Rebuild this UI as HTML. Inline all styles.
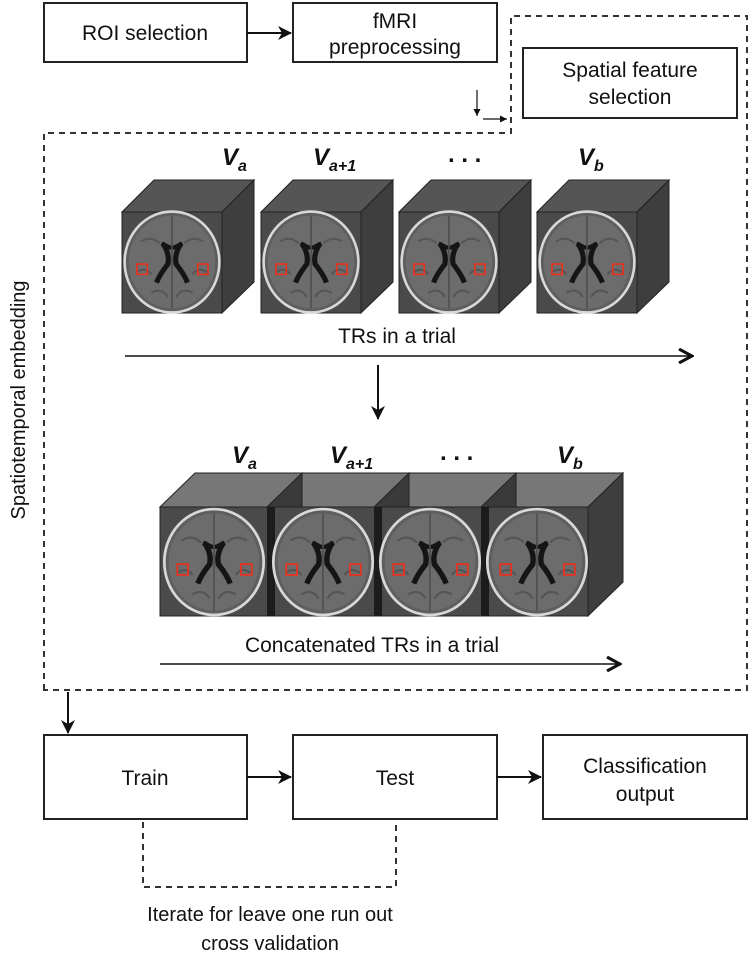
<!DOCTYPE html>
<html><head><meta charset="utf-8"><style>
html,body{margin:0;padding:0;background:#fff;}
svg{display:block;}
text{font-family:"Liberation Sans",sans-serif;fill:#111;}
</style></head><body>
<svg width="752" height="956" viewBox="0 0 752 956" xmlns="http://www.w3.org/2000/svg">
<defs>
<marker id="ah" markerWidth="14" markerHeight="14" refX="13" refY="7" orient="auto" markerUnits="userSpaceOnUse"><path d="M0,0 L14,7 L0,14 L4,7 z" fill="#111"/></marker>
<marker id="ah2" markerWidth="16" markerHeight="16" refX="14" refY="8" orient="auto" markerUnits="userSpaceOnUse"><path d="M1,1 L14,8 L1,15" fill="none" stroke="#111" stroke-width="3"/></marker>
<marker id="ahs" markerWidth="7" markerHeight="7" refX="7" refY="3.5" orient="auto" markerUnits="userSpaceOnUse"><path d="M0,0 L7,3.5 L0,7 z" fill="#111"/></marker>
<g id="brain">
<ellipse cx="0" cy="0" rx="46" ry="49" fill="#5e5e5e" stroke="#d8d8d8" stroke-width="2.5"/>
<ellipse cx="0" cy="0" rx="42" ry="45" fill="#6c6c6c"/>
<path d="M-30,-20 Q-20,-26 -12,-18 M30,-20 Q20,-26 12,-18 M-34,10 Q-26,4 -20,12 M34,10 Q26,4 20,12 M-20,30 Q-10,24 -4,34 M20,30 Q10,24 4,34" stroke="#555" stroke-width="2" fill="none"/>
<path d="M-9,-18 Q-2,-8 -4,2 Q-12,12 -15,20 M9,-18 Q2,-8 4,2 Q12,12 15,20" stroke="#151515" stroke-width="5" fill="none"/>
<path d="M-10,-18 L-2,-14 L2,-14 L10,-18" stroke="#151515" stroke-width="4" fill="none"/>
<path d="M0,-45 L0,45" stroke="#4e4e4e" stroke-width="1.5"/>
<rect x="-34" y="2" width="10" height="10" fill="none" stroke="#e8321e" stroke-width="1.6"/>
<rect x="25" y="2" width="10" height="10" fill="none" stroke="#e8321e" stroke-width="1.6"/>
</g>
</defs>

<g fill="#fff" stroke="#222" stroke-width="2">
<rect x="44" y="3" width="203" height="59"/>
<rect x="293" y="3" width="204" height="59"/>
<rect x="523" y="48" width="214" height="70"/>
<rect x="44" y="735" width="203" height="84"/>
<rect x="293" y="735" width="204" height="84"/>
<rect x="543" y="735" width="204" height="84"/>
</g>
<g font-size="21" text-anchor="middle">
<text x="145" y="40">ROI selection</text>
<text x="395" y="28">fMRI</text>
<text x="395" y="54">preprocessing</text>
<text x="630" y="77">Spatial feature</text>
<text x="630" y="104">selection</text>
<text x="145" y="785">Train</text>
<text x="395" y="785">Test</text>
<text x="645" y="773">Classification</text>
<text x="645" y="801">output</text>
</g>

<g stroke="#111" stroke-width="2" fill="none">
<line x1="247" y1="33" x2="291" y2="33" marker-end="url(#ah)"/>
<line x1="247" y1="777" x2="291" y2="777" marker-end="url(#ah)"/>
<line x1="497" y1="777" x2="541" y2="777" marker-end="url(#ah)"/>
<line x1="68" y1="692" x2="68" y2="733" marker-end="url(#ah)"/>
<line x1="378" y1="365" x2="378" y2="419" marker-end="url(#ah)"/>
</g>
<g stroke="#111" stroke-width="1.2" fill="none">
<line x1="477" y1="90" x2="477" y2="116" marker-end="url(#ahs)"/>
<line x1="483" y1="119" x2="507" y2="119" marker-end="url(#ahs)"/>
</g>

<g stroke="#333" stroke-width="2" fill="none" stroke-dasharray="6,5">
<path d="M44,690 L44,133 L511,133 L511,16 L747,16 L747,690 Z"/>
<path d="M143,822 L143,887 L396,887 L396,822"/>
</g>
<text x="270" y="921" font-size="20" text-anchor="middle">Iterate for leave one run out</text>
<text x="270" y="950" font-size="20" text-anchor="middle">cross validation</text>
<text transform="translate(25,400) rotate(-90)" font-size="20" text-anchor="middle">Spatiotemporal embedding</text>

<g transform="translate(122,212)">
<path d="M0,0 L32,-32 L132,-32 L100,0 Z" fill="#555" stroke="#222"/>
<path d="M100,0 L132,-32 L132,70 L100,101 Z" fill="#3e3e3e" stroke="#222"/>
<rect x="0" y="0" width="100" height="101" fill="#4a4a4a" stroke="#222"/>
<use href="#brain" transform="translate(50,50) scale(1.03)"/>
</g>
<g transform="translate(261,212)">
<path d="M0,0 L32,-32 L132,-32 L100,0 Z" fill="#555" stroke="#222"/>
<path d="M100,0 L132,-32 L132,70 L100,101 Z" fill="#3e3e3e" stroke="#222"/>
<rect x="0" y="0" width="100" height="101" fill="#4a4a4a" stroke="#222"/>
<use href="#brain" transform="translate(50,50) scale(1.03)"/>
</g>
<g transform="translate(399,212)">
<path d="M0,0 L32,-32 L132,-32 L100,0 Z" fill="#555" stroke="#222"/>
<path d="M100,0 L132,-32 L132,70 L100,101 Z" fill="#3e3e3e" stroke="#222"/>
<rect x="0" y="0" width="100" height="101" fill="#4a4a4a" stroke="#222"/>
<use href="#brain" transform="translate(50,50) scale(1.03)"/>
</g>
<g transform="translate(537,212)">
<path d="M0,0 L32,-32 L132,-32 L100,0 Z" fill="#555" stroke="#222"/>
<path d="M100,0 L132,-32 L132,70 L100,101 Z" fill="#3e3e3e" stroke="#222"/>
<rect x="0" y="0" width="100" height="101" fill="#4a4a4a" stroke="#222"/>
<use href="#brain" transform="translate(50,50) scale(1.03)"/>
</g>
<g font-size="24" font-weight="bold" font-style="italic">
<text x="222" y="165">V<tspan font-size="16" dy="6">a</tspan></text>
<text x="313" y="165">V<tspan font-size="16" dy="6">a+1</tspan></text>
<text x="448" y="162" font-style="normal">. . .</text>
<text x="578" y="165">V<tspan font-size="16" dy="6">b</tspan></text>
<text x="232" y="463">V<tspan font-size="16" dy="6">a</tspan></text>
<text x="330" y="463">V<tspan font-size="16" dy="6">a+1</tspan></text>
<text x="440" y="460" font-style="normal">. . .</text>
<text x="557" y="463">V<tspan font-size="16" dy="6">b</tspan></text>
</g>
<text x="397" y="343" font-size="21" text-anchor="middle">TRs in a trial</text>
<line x1="125" y1="356" x2="692" y2="356" stroke="#111" stroke-width="1.5" marker-end="url(#ah2)"/>

<g transform="translate(160,507)">
<path d="M0,0 L35,-34 L463,-34 L428,0 Z" fill="#777" stroke="#222"/>
<path d="M428,0 L463,-34 L463,75 L428,109 Z" fill="#3e3e3e" stroke="#222"/>
<rect x="0" y="0" width="428" height="109" fill="#4a4a4a" stroke="#222"/>
<path d="M107,0 L142,-34 L142,0 Z M214,0 L249,-34 L249,0 Z M321,0 L356,-34 L356,0 Z" fill="#3a3a3a" stroke="#222"/>
<rect x="107" y="0" width="8" height="109" fill="#1c1c1c"/>
<rect x="214" y="0" width="8" height="109" fill="#1c1c1c"/>
<rect x="321" y="0" width="8" height="109" fill="#1c1c1c"/>
<use href="#brain" transform="translate(54,55) scale(1.08)"/>
<use href="#brain" transform="translate(163,55) scale(1.08)"/>
<use href="#brain" transform="translate(270,55) scale(1.08)"/>
<use href="#brain" transform="translate(377,55) scale(1.08)"/>
</g>
<text x="372" y="652" font-size="21" text-anchor="middle">Concatenated TRs in a trial</text>
<line x1="160" y1="664" x2="620" y2="664" stroke="#111" stroke-width="1.5" marker-end="url(#ah2)"/>
</svg>
</body></html>
